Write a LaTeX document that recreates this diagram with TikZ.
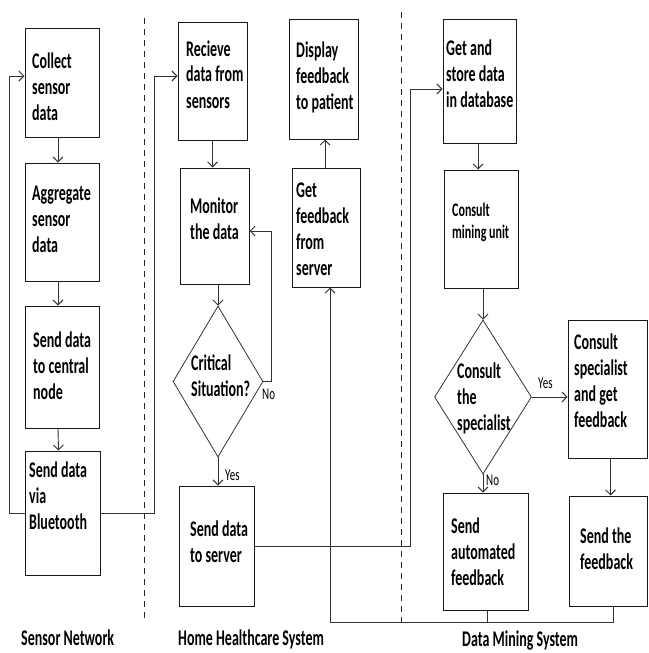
\documentclass[tikz,border=0pt]{standalone}
\usepackage{fontspec}
\setmainfont{Carlito}
\usepackage{graphicx}
\usetikzlibrary{arrows.meta,shapes.geometric}
\newcommand{\btxt}[1]{\scalebox{1}[1.6]{\fontsize{14}{16.25}\selectfont\bfseries\begin{tabular}[t]{@{}l@{}}#1\end{tabular}}}
\newcommand{\stxt}[1]{\scalebox{1}[1.6]{\fontsize{12}{13.75}\selectfont\bfseries\begin{tabular}[t]{@{}l@{}}#1\end{tabular}}}
\newcommand{\ltxt}[1]{\scalebox{1}[1.5]{\fontsize{11}{13}\selectfont #1}}
\begin{document}
\begin{tikzpicture}[x=1pt,y=-1pt,
  box/.style={draw=black!90, line width=1pt, rectangle, inner sep=0pt},
  dia/.style={draw=black!80, line width=0.8pt, diamond, inner sep=0pt},
  txt/.style={anchor=base west, inner sep=0pt},
  arr/.style={draw=black!80, line width=0.9pt, -{Straight Barb[length=5pt,width=10pt]}},
  ln/.style={draw=black!80, line width=0.9pt},
  sep/.style={draw=black!85, line width=0.8pt, dash pattern=on 6pt off 5pt}]
\useasboundingbox (0,0) rectangle (648,653);

% separators
\coordinate (d1a) at (144,18); \coordinate (d1b) at (144,622);
\coordinate (d2a) at (401,12); \coordinate (d2b) at (401,622);
\draw[sep] (d1a) -- (d1b);
\draw[sep] (d2a) -- (d2b);

% Sensor network
\node[box, minimum width=74pt, minimum height=109pt] (collect) at (62,82.5) {};
\node[box, minimum width=74pt, minimum height=118pt] (aggr) at (62,222) {};
\node[box, minimum width=74pt, minimum height=122pt] (central) at (62,367) {};
\node[box, minimum width=75pt, minimum height=124pt] (bt) at (62.5,513) {};
\node[txt] (t1) at (32,68) {\btxt{Collect\\sensor\\data}};
\node[txt] (t2) at (32,200) {\btxt{Aggregate\\sensor\\data}};
\node[txt] (t3) at (33,347) {\btxt{Send data\\to central\\node}};
\node[txt] (t4) at (29,477) {\btxt{Send data\\via\\Bluetooth}};

% Home healthcare
\node[box, minimum width=69pt, minimum height=118pt] (recv) at (212.5,81) {};
\node[box, minimum width=69pt, minimum height=116pt] (monitor) at (214.5,226) {};
\node[dia, minimum width=90pt, minimum height=151pt] (crit) at (218,381.5) {};
\node[box, minimum width=75pt, minimum height=120pt] (server) at (216.5,546) {};
\node[box, minimum width=69pt, minimum height=120pt] (display) at (323.5,79) {};
\node[box, minimum width=68pt, minimum height=119pt] (getfb) at (326,227.5) {};
\node[txt] (t5) at (186,56) {\btxt{Recieve\\data from\\sensors}};
\node[txt] (t6) at (190,213) {\btxt{Monitor\\the data}};
\node[txt] (t7) at (191,370) {\btxt{Critical\\Situation?}};
\node[txt] (t8) at (190,536) {\btxt{Send data\\to server}};
\node[txt] (t9) at (296,57) {\btxt{Display\\feedback\\to patient}};
\node[txt] (t10) at (296,197) {\btxt{Get\\feedback\\from\\server}};

% Data mining
\node[box, minimum width=73pt, minimum height=124pt] (store) at (479.5,81) {};
\node[box, minimum width=74pt, minimum height=118pt] (mining) at (481,229) {};
\node[dia, minimum width=97pt, minimum height=154pt] (spec) at (483,397) {};
\node[box, minimum width=79pt, minimum height=138pt] (cspec) at (607.5,389) {};
\node[box, minimum width=85pt, minimum height=117pt] (auto) at (485.5,551.5) {};
\node[box, minimum width=78pt, minimum height=110pt] (sendfb) at (608.5,551) {};
\node[txt] (t11) at (446,55) {\btxt{Get and\\store data\\in database}};
\node[txt] (t12) at (452,216) {\stxt{Consult\\mining unit}};
\node[txt] (t13) at (457,378) {\btxt{Consult\\the\\specialist}};
\node[txt] (t14) at (574,349) {\btxt{Consult\\specialist\\and get\\feedback}};
\node[txt] (t15) at (451,533) {\btxt{Send\\automated\\feedback}};
\node[txt] (t16) at (580,543) {\btxt{Send the\\feedback}};

% section titles
\node[txt] (s1) at (21,645) {\btxt{Sensor Network}};
\node[txt] (s2) at (178,645) {\btxt{Home Healthcare System}};
\node[txt] (s3) at (462,646) {\btxt{Data Mining System}};

% connectors: sensor network
\draw[arr] ([xshift=-4pt]collect.south) -- ([xshift=-4pt]aggr.north);
\draw[arr] ([xshift=-4pt]aggr.south) -- ([xshift=-4pt]central.north);
\draw[arr] ([xshift=-4pt]central.south) -- ([xshift=-4pt]bt.north);
\coordinate (lx) at (9,76);
\draw[arr] (bt.west) -| (lx) -- (collect.west |- lx);
\coordinate (rx) at (154,76);
\draw[arr] (bt.east) -| (rx) -- (recv.west |- rx);

% connectors: home healthcare
\draw[arr] (recv.south) -- (recv.south |- monitor.north);
\draw[arr] (crit.north |- monitor.south) -- (crit.north);
\coordinate (nx) at (271,231);
\draw[arr] (crit.east) -| (nx) -- (monitor.east |- nx);
\draw[arr] (crit.south) -- (crit.south |- server.north);
\node[txt] (yes1) at (225,480) {\ltxt{Yes}};
\node[txt] (no1) at (262,399) {\ltxt{No}};
\coordinate (sx) at (410,89);
\draw[arr] (server.east) -| (sx) -- (store.west |- sx);
\draw[arr] ([xshift=-1pt]getfb.north) -- ([xshift=-1pt]getfb.north |- display.south);

% connectors: data mining
\draw[arr] ([xshift=-1.5pt]store.south) -- ([xshift=-1.5pt]store.south |- mining.north);
\draw[arr] (spec.north |- mining.south) -- (spec.north);
\draw[arr] (spec.east) -- (spec.east -| cspec.west);
\node[txt] (yes2) at (538,388) {\ltxt{Yes}};
\draw[arr] (spec.south) -- (spec.south |- auto.north);
\node[txt] (no2) at (486,485) {\ltxt{No}};
\draw[arr] ([xshift=3pt]cspec.south) -- ([xshift=3pt]cspec.south |- sendfb.north);

% feedback return line
\coordinate (b1) at (330,622);
\draw[arr] ([xshift=5pt]sendfb.south) |- (b1) -- (b1 |- getfb.south);
\draw[ln] ([xshift=1.5pt]auto.south) -- ([xshift=1.5pt]auto.south |- b1);
\end{tikzpicture}
\end{document}
